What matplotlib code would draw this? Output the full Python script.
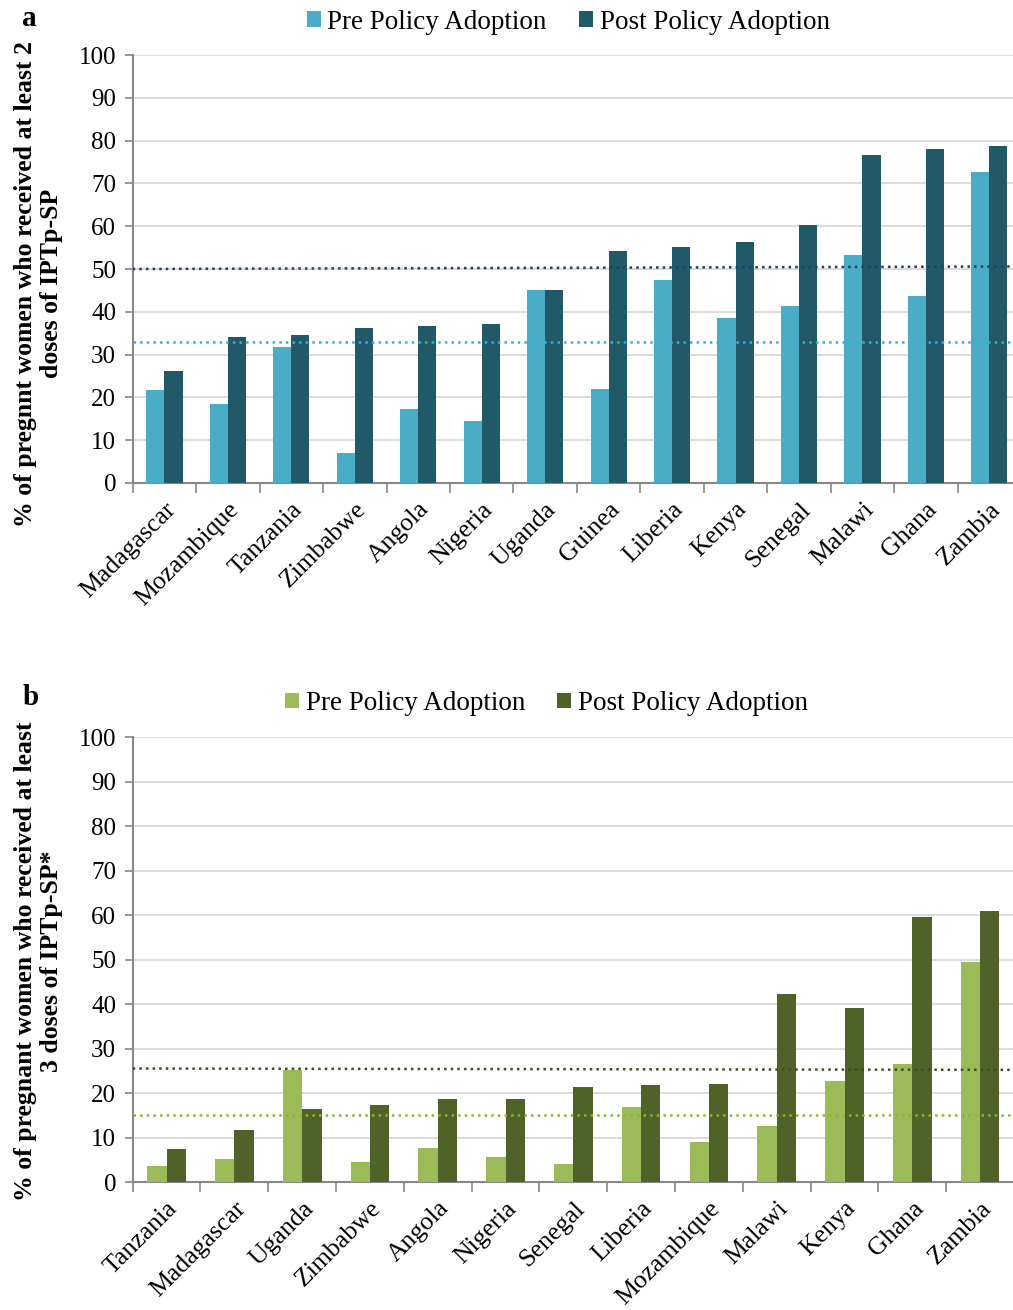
import matplotlib
matplotlib.use('Agg')

import matplotlib.pyplot as plt
import numpy as np

plt.rcParams['font.family'] = 'Liberation Serif'

# ---------------- panel a : at least 2 doses ----------------
countries_a = ['Madagascar', 'Mozambique', 'Tanzania', 'Zimbabwe', 'Angola', 'Nigeria', 'Uganda',
               'Guinea', 'Liberia', 'Kenya', 'Senegal', 'Malawi', 'Ghana', 'Zambia']
pre_a  = [21.7, 18.4, 31.7, 7.0, 17.4, 14.4, 45.2, 22.0, 47.4, 38.5, 41.3, 53.2, 43.7, 72.7]
post_a = [26.2, 34.2, 34.6, 36.1, 36.8, 37.2, 45.0, 54.1, 55.1, 56.4, 60.3, 76.6, 78.0, 78.8]
mean_pre_a  = [32.9, 32.9]
mean_post_a = [50.0, 50.6]

# ---------------- panel b : at least 3 doses ----------------
countries_b = ['Tanzania', 'Madagascar', 'Uganda', 'Zimbabwe', 'Angola', 'Nigeria', 'Senegal',
               'Liberia', 'Mozambique', 'Malawi', 'Kenya', 'Ghana', 'Zambia']
pre_b  = [3.5, 5.1, 25.1, 4.6, 7.6, 5.6, 4.1, 16.9, 9.1, 12.5, 22.6, 26.6, 49.4]
post_b = [7.4, 11.7, 16.5, 17.4, 18.7, 18.7, 21.3, 21.7, 22.1, 42.3, 39.0, 59.5, 60.8]
mean_pre_b  = [15.0, 15.0]
mean_post_b = [25.5, 25.2]

fig = plt.figure(figsize=(10.13, 13.10), dpi=100)


def draw_panel(ax, names, pre, post, mean_pre, mean_post, c_pre, c_post, c_mpre, c_mpost,
               ylabel, label_y, letter, letter_y, leg_x, leg_y):
    n = len(names)
    x = np.arange(n)
    w = 0.285
    ax.bar(x - w / 2, pre, w, color=c_pre, label='Pre Policy Adoption', zorder=3)
    ax.bar(x + w / 2, post, w, color=c_post, label='Post Policy Adoption', zorder=3)
    ax.plot([-0.5, n - 0.5], mean_post, linestyle=':', color=c_mpost, lw=1.8, zorder=4)
    ax.plot([-0.5, n - 0.5], mean_pre, linestyle=':', color=c_mpre, lw=1.8, zorder=4)

    ax.set_xlim(-0.5, n - 0.5)
    ax.set_ylim(0, 100)
    ax.set_yticks(range(0, 101, 10))
    ax.yaxis.grid(True, color='#d9d9d9', lw=1.3, zorder=0)
    ax.set_axisbelow(True)

    ax.set_xticks(x)
    ax.set_xticklabels(names, rotation=45, ha='right', rotation_mode='anchor', fontsize=18.5)
    ax.set_xticks(np.arange(n + 1) - 0.5, minor=True)
    ax.tick_params(axis='x', which='major', length=0, pad=11)
    ax.tick_params(axis='x', which='minor', length=7, color='#888888', width=1.2)
    ax.tick_params(axis='y', length=6, color='#888888', width=1.2, labelsize=18, pad=6)

    for s in ['top', 'right']:
        ax.spines[s].set_visible(False)
    for s in ['left', 'bottom']:
        ax.spines[s].set_color('#888888')
        ax.spines[s].set_linewidth(1.5)

    ax.set_ylabel(ylabel, fontsize=18.5, fontweight='bold', linespacing=1.15)
    ax.yaxis.set_label_coords(-0.079, label_y)

    fig.text(0.022, letter_y, letter, fontsize=21, fontweight='bold')
    fig.legend(*ax.get_legend_handles_labels(), loc='center', ncol=2, frameon=False,
               bbox_to_anchor=(leg_x, leg_y), fontsize=19.5, handlelength=0.5, handleheight=0.5,
               handletextpad=0.25, columnspacing=1.2)


ax_a = fig.add_axes([0.131, 0.6313, 0.877, 0.3267])
draw_panel(ax_a, countries_a, pre_a, post_a, mean_pre_a, mean_post_a,
           '#4bacc6', '#215968', '#31b3d4', '#1f3c6e',
           '% of pregnnt women who received at least 2\ndoses of IPTp-SP', 0.466,
           'a', 0.980, 0.561, 0.983)

ax_b = fig.add_axes([0.131, 0.0977, 0.870, 0.3397])
draw_panel(ax_b, countries_b, pre_b, post_b, mean_pre_b, mean_post_b,
           '#9bbb59', '#4f6228', '#8db33c', '#3d4f22',
           '% of pregnant women who received at least\n3 doses of IPTp-SP*', 0.497,
           'b', 0.462, 0.5395, 0.463)

plt.savefig('out.png', dpi=100)
